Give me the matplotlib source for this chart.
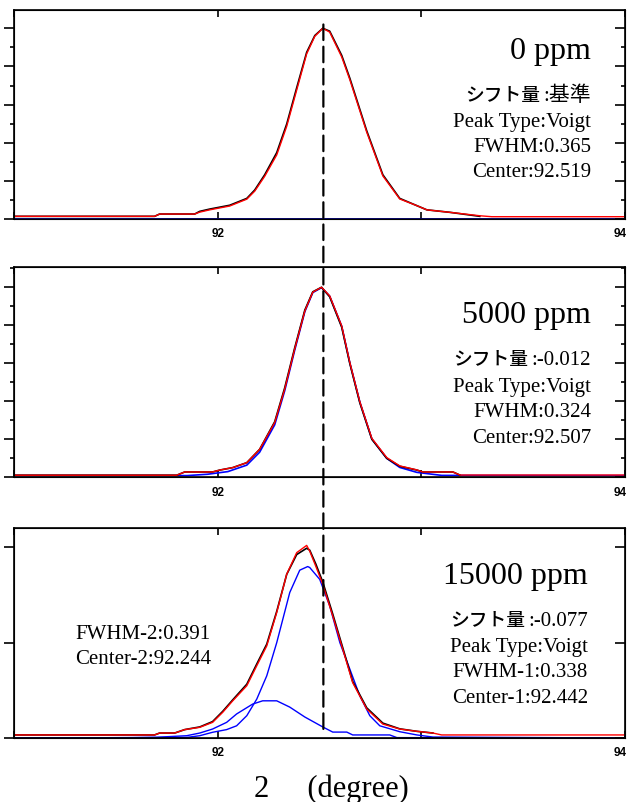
import matplotlib
matplotlib.use("Agg")
import matplotlib.pyplot as plt
from matplotlib.patches import ConnectionPatch
from matplotlib.ticker import MultipleLocator, FixedLocator
from matplotlib.transforms import offset_copy, ScaledTranslation

plt.rcParams['font.family'] = ['Liberation Serif', 'Noto Sans CJK JP']

# ---- data (2theta in degree, normalised intensity) ----
# 0 ppm
x0_obs = [91.00, 91.690, 91.715, 91.887, 91.912, 91.961, 92.059, 92.143, 92.182, 92.231,
          92.290, 92.339, 92.388, 92.437, 92.477, 92.516, 92.550, 92.609, 92.649, 92.732,
          92.811, 92.894, 92.978, 93.027, 93.140, 93.287]
y0_obs = [0.014, 0.014, 0.026, 0.026, 0.040, 0.052, 0.072, 0.108, 0.152, 0.232,
          0.348, 0.498, 0.688, 0.874, 0.962, 1.000, 0.985, 0.858, 0.738, 0.462,
          0.232, 0.108, 0.070, 0.048, 0.035, 0.014]
x0_fit = [91.00, 91.690, 91.715, 91.887, 91.912, 91.961, 92.059, 92.143, 92.182, 92.231,
          92.290, 92.339, 92.388, 92.437, 92.477, 92.516, 92.550, 92.609, 92.649, 92.732,
          92.811, 92.894, 92.978, 93.027, 93.140, 93.287, 93.346, 94.00]
y0_fit = [0.014, 0.014, 0.026, 0.026, 0.036, 0.048, 0.068, 0.104, 0.146, 0.224,
          0.336, 0.486, 0.676, 0.866, 0.958, 1.000, 0.980, 0.850, 0.730, 0.455,
          0.226, 0.105, 0.070, 0.048, 0.035, 0.017, 0.012, 0.012]
x0_base = [91.00, 94.00]
y0_base = [0.002, 0.002]

# 5000 ppm
x1_obs = [91.00, 91.799, 91.838, 91.975, 92.010, 92.074, 92.143, 92.206, 92.280, 92.329,
          92.378, 92.428, 92.467, 92.510, 92.550, 92.609, 92.649, 92.698, 92.757, 92.830,
          92.894, 92.978, 93.007, 93.155, 93.189]
y1_obs = [0.011, 0.011, 0.028, 0.028, 0.038, 0.051, 0.077, 0.147, 0.292, 0.470,
          0.680, 0.880, 0.976, 1.000, 0.950, 0.790, 0.598, 0.392, 0.200, 0.100,
          0.058, 0.038, 0.028, 0.028, 0.012]
x1_fit = [91.00, 91.799, 91.838, 91.975, 92.010, 92.074, 92.143, 92.206, 92.280, 92.329,
          92.378, 92.428, 92.467, 92.510, 92.550, 92.609, 92.649, 92.698, 92.757, 92.830,
          92.894, 92.978, 93.007, 93.155, 93.189, 94.00]
y1_fit = [0.011, 0.011, 0.028, 0.028, 0.038, 0.051, 0.077, 0.147, 0.288, 0.463,
          0.674, 0.875, 0.974, 1.000, 0.955, 0.797, 0.604, 0.398, 0.205, 0.104,
          0.060, 0.039, 0.028, 0.028, 0.012, 0.012]
x1_comp = [91.00, 91.850, 91.950, 92.050, 92.143, 92.206, 92.280, 92.329, 92.378, 92.428,
           92.467, 92.510, 92.550, 92.609, 92.649, 92.698, 92.757, 92.830, 92.894, 92.978,
           93.100, 94.00]
y1_comp = [0.009, 0.009, 0.016, 0.030, 0.064, 0.132, 0.276, 0.455, 0.668, 0.872,
           0.972, 0.998, 0.953, 0.795, 0.602, 0.396, 0.202, 0.100, 0.052, 0.026,
           0.010, 0.009]

# 15000 ppm
x2_obs = [91.00, 91.690, 91.715, 91.789, 91.838, 91.912, 91.975, 92.025, 92.074, 92.143,
          92.192, 92.241, 92.290, 92.339, 92.388, 92.437, 92.452, 92.482, 92.516, 92.565,
          92.614, 92.663, 92.732, 92.811, 92.894, 92.978, 93.057]
y2_obs = [0.016, 0.016, 0.026, 0.026, 0.044, 0.058, 0.086, 0.140, 0.200, 0.282,
          0.388, 0.492, 0.664, 0.858, 0.962, 0.995, 0.985, 0.912, 0.818, 0.650,
          0.474, 0.296, 0.158, 0.078, 0.048, 0.035, 0.026]
x2_fit = [91.00, 91.690, 91.715, 91.789, 91.838, 91.912, 91.975, 92.025, 92.074, 92.143,
          92.192, 92.241, 92.290, 92.339, 92.388, 92.437, 92.452, 92.482, 92.516, 92.565,
          92.614, 92.663, 92.732, 92.811, 92.894, 92.978, 93.057, 93.100, 94.00]
y2_fit = [0.016, 0.016, 0.026, 0.026, 0.044, 0.056, 0.082, 0.135, 0.195, 0.274,
          0.379, 0.483, 0.658, 0.859, 0.972, 1.010, 0.980, 0.900, 0.806, 0.640,
          0.466, 0.290, 0.152, 0.073, 0.047, 0.035, 0.026, 0.016, 0.016]
x2_comp1 = [91.00, 91.848, 91.912, 91.975, 92.044, 92.093, 92.143, 92.192, 92.241, 92.290,
            92.354, 92.403, 92.442, 92.452, 92.501, 92.550, 92.600, 92.649, 92.698, 92.747,
            92.796, 92.894, 92.978, 93.057, 94.00]
y2_comp1 = [0.0, 0.003, 0.012, 0.030, 0.044, 0.064, 0.117, 0.204, 0.326, 0.500,
            0.763, 0.880, 0.899, 0.894, 0.832, 0.693, 0.500, 0.361, 0.221, 0.117,
            0.064, 0.033, 0.016, 0.005, 0.0]
x2_comp2 = [91.00, 91.582, 91.700, 91.848, 91.912, 91.975, 92.044, 92.093, 92.172, 92.221,
            92.290, 92.354, 92.428, 92.516, 92.565, 92.634, 92.663, 92.845, 92.880, 94.00]
y2_comp2 = [0.0, 0.002, 0.004, 0.012, 0.026, 0.047, 0.082, 0.126, 0.178, 0.195,
            0.195, 0.162, 0.110, 0.058, 0.031, 0.031, 0.016, 0.016, 0.002, 0.0]

ref_center = 92.519
concentrations = ["0 ppm", "5000 ppm", "15000 ppm"]
shift_label = "シフト量"
shift_values = [":基準", ":-0.012", ":-0.077"]
info_lines = [
    ["Peak Type:Voigt", "FWHM:0.365", "Center:92.519"],
    ["Peak Type:Voigt", "FWHM:0.324", "Center:92.507"],
    ["Peak Type:Voigt", "FWHM-1:0.338", "Center-1:92.442"],
]
second_peak = ["FWHM-2:0.391", "Center-2:92.244"]

# ---- figure ----
fig = plt.figure(figsize=(6.28, 8.03), dpi=100)
W, H = 628.0, 803.0
left, width = 14 / W, 611 / W
# (top px, bottom px, ymax)
panels = [(10.7, 220.0, 1.0975), (268.3, 478.3, 1.105), (529.3, 739.0, 1.0996)]

axes = []
for i, (top, bot, ymax) in enumerate(panels):
    ax = fig.add_axes([left, 1 - bot / H, width, (bot - top) / H])
    ax.set_xlim(91, 94)
    ax.set_ylim(0, ymax)
    for s in ax.spines.values():
        s.set_linewidth(1.2)
    ax.xaxis.set_major_locator(FixedLocator([92, 94]))
    ax.xaxis.set_minor_locator(FixedLocator([91, 93]))
    ax.tick_params(axis='x', which='both', direction='in', top=True, bottom=True,
                   length=5, width=1.2, pad=6, labelsize=8.5)
    for lab in ax.get_xticklabels():
        lab.set_family('Liberation Sans')
        lab.set_fontweight('bold')
    # the 94 label sits at the right edge of the figure
    last = ax.get_xticklabels()[-1]
    last.set_horizontalalignment('right')
    last.set_transform(last.get_transform() + ScaledTranslation(2 / 100, 0, fig.dpi_scale_trans))
    step = 0.2 if i < 2 else 0.5
    ax.yaxis.set_major_locator(MultipleLocator(step))
    if i < 2:
        ax.yaxis.set_minor_locator(MultipleLocator(step / 2))
    else:
        ax.yaxis.set_minor_locator(FixedLocator([]))
    ax.tick_params(axis='y', which='major', direction='out', length=7, width=1.2,
                   left=True, right=False, labelleft=False)
    ax.tick_params(axis='y', which='minor', direction='out', length=3, width=1.2,
                   left=True, right=False)
    tw = ax.twinx()
    tw.set_ylim(0, ymax)
    tw.yaxis.set_major_locator(MultipleLocator(step))
    if i < 2:
        tw.yaxis.set_minor_locator(MultipleLocator(step / 2))
    tw.tick_params(axis='y', which='major', direction='in', length=7, width=1.2,
                   right=True, labelright=False)
    tw.tick_params(axis='y', which='minor', direction='in', length=3, width=1.2,
                   right=True)
    axes.append(ax)

ax1, ax2, ax3 = axes

# top panel
ax1.plot(x0_base, y0_base, color='#000080', lw=1.8, zorder=3)
ax1.plot(x0_obs, y0_obs, color='black', lw=1.2)
ax1.plot(x0_fit, y0_fit, color='#ff0000', lw=1.0)

# middle panel
ax2.plot(x1_comp, y1_comp, color='#0000ff', lw=1.2)
ax2.plot(x1_obs, y1_obs, color='black', lw=1.2)
ax2.plot(x1_fit, y1_fit, color='#ff0000', lw=1.0)

# bottom panel
ax3.plot(x2_comp1, y2_comp1, color='#0000ff', lw=1.0)
ax3.plot(x2_comp2, y2_comp2, color='#0000ff', lw=1.0)
ax3.plot(x2_obs, y2_obs, color='black', lw=1.2)
ax3.plot(x2_fit, y2_fit, color='#ff0000', lw=1.0)

# annotations
renderer = fig.canvas.get_renderer()
text_x = [93.833, 93.833, 93.818]
title_y = [0.844, 0.817, 0.813]
shift_y = [0.624, 0.596, 0.593]
info_y = [[0.488, 0.357, 0.225],
          [0.454, 0.323, 0.186],
          [0.458, 0.327, 0.190]]
for ax, tx, ty, conc, sy, sval, lines, ly in zip(axes, text_x, title_y, concentrations,
                                                  shift_y, shift_values, info_lines, info_y):
    ax.text(tx, ty, conc, ha='right', va='baseline', fontsize=23)
    tv = ax.text(tx, sy, sval, ha='right', va='baseline', fontsize=15)
    wpx = tv.get_window_extent(renderer=renderer).width
    ax.text(tx, sy, shift_label, ha='right', va='baseline', fontsize=13.5,
            fontweight='medium',
            transform=offset_copy(ax.transData, fig=fig, x=-(wpx + 3), y=0, units='dots'))
    for s, yy in zip(lines, ly):
        ax.text(tx, yy, s, ha='right', va='baseline', fontsize=15)

ax3.text(91.302, 0.523, second_peak[0], ha='left', va='baseline', fontsize=15)
ax3.text(91.302, 0.393, second_peak[1], ha='left', va='baseline', fontsize=15)

# reference peak position through all panels
con = ConnectionPatch(xyA=(ref_center, 1.02), coordsA=ax1.transData,
                      xyB=(ref_center, 0.02), coordsB=ax3.transData,
                      color='black', lw=1.6, linestyle=(0, (7, 3)), zorder=5)
fig.add_artist(con)

fig.text(331.5 / W, 1 - 797 / H, "2     (degree)", ha='center', va='baseline', fontsize=22)

fig.savefig("out.png", dpi=100)
